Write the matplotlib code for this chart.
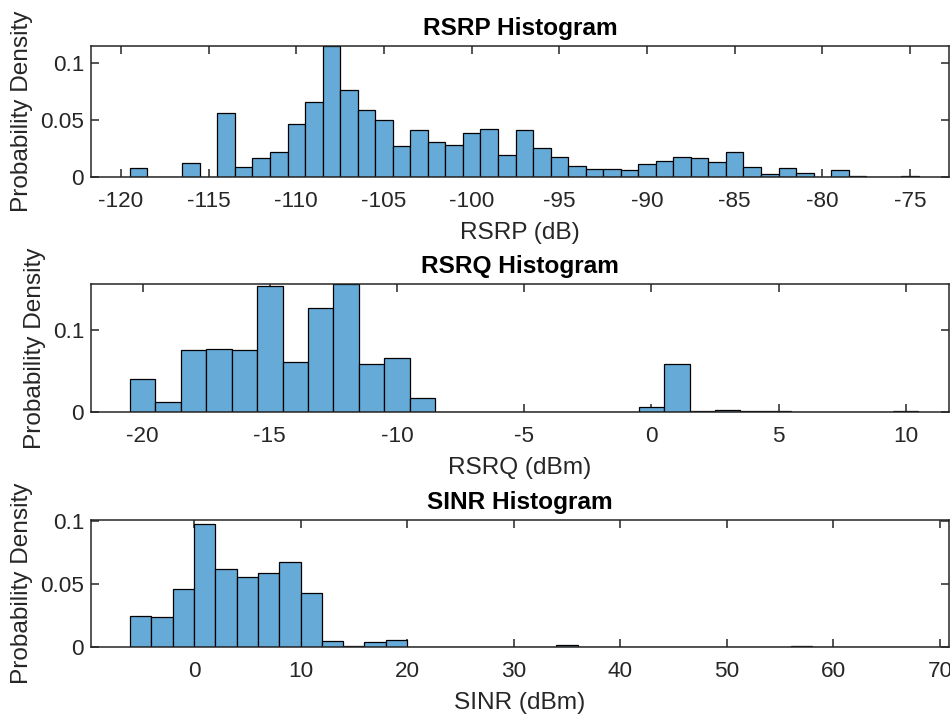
import numpy as np
import matplotlib
matplotlib.use("Agg")
import matplotlib.pyplot as plt

plt.rcParams['font.family'] = ['Liberation Sans', 'DejaVu Sans']

# ---------------- data ----------------
rsrp_first_edge = -119.5
rsrp_bin_width = 1.0
rsrp_density = [0.0079, 0.0, 0.0, 0.0124, 0.0, 0.0559, 0.0088, 0.0165, 0.0218, 0.0462,
                0.0653, 0.1147, 0.0765, 0.0585, 0.0503, 0.0274, 0.0415, 0.0303, 0.0279, 0.0388,
                0.0424, 0.0191, 0.0409, 0.0250, 0.0179, 0.0094, 0.0068, 0.0068, 0.0062, 0.0115,
                0.0141, 0.0171, 0.0165, 0.0132, 0.0218, 0.0088, 0.0026, 0.0079, 0.0038, 0.0003,
                0.0059, 0.0012, 0.0, 0.0003, 0.0012]

rsrq_first_edge = -20.5
rsrq_bin_width = 1.0
rsrq_density = [0.0400, 0.0122, 0.0751, 0.0771, 0.0759, 0.1539, 0.0612, 0.1265, 0.1563, 0.0588,
                0.0665, 0.0167, 0.0, 0.0, 0.0, 0.0, 0.0, 0.0, 0.0, 0.0,
                0.0065, 0.0588, 0.0016, 0.0029, 0.0008, 0.0012, 0.0, 0.0, 0.0, 0.0004,
                0.0016]

sinr_first_edge = -6.0
sinr_bin_width = 2.0
sinr_density = [0.0245, 0.0237, 0.0463, 0.0979, 0.0620, 0.0556, 0.0590, 0.0676, 0.0426, 0.0051,
                0.0011, 0.0037, 0.0056, 0.0003, 0.0, 0.0, 0.0, 0.0003, 0.0003, 0.0,
                0.0019, 0.0, 0.0, 0.0, 0.0, 0.0, 0.0, 0.0, 0.0, 0.0,
                0.0, 0.0005, 0.0, 0.0003, 0.0, 0.0003, 0.0003]

rsrp_ticks = [-120, -115, -110, -105, -100, -95, -90, -85, -80, -75]
rsrq_ticks = [-20, -15, -10, -5, 0, 5, 10]
sinr_ticks = [0, 10, 20, 30, 40, 50, 60, 70]

titles = ['RSRP Histogram', 'RSRQ Histogram', 'SINR Histogram']
xlabels = ['RSRP (dB)', 'RSRQ (dBm)', 'SINR (dBm)']
ylabel = 'Probability Density'

# ---------------- style ----------------
W, H = 950, 715
fig = plt.figure(figsize=(W / 100, H / 100), dpi=100)
face = (0.4 + 0.6 * 0.0, 0.4 + 0.6 * 0.447, 0.4 + 0.6 * 0.741)
axcol = '#262626'

def px_axes(left, right, top, bottom):
    return fig.add_axes([left / W, 1 - bottom / H, (right - left) / W, (bottom - top) / H])

specs = [
    dict(box=(91, 949, 46, 177), first=rsrp_first_edge, w=rsrp_bin_width, d=rsrp_density,
         xlim=(-121.71, -72.78), ylim=(0, 0.1147), yt=[0, 0.05, 0.1], ytl=['0', '0.05', '0.1'],
         xt=rsrp_ticks),
    dict(box=(91, 949, 284, 412), first=rsrq_first_edge, w=rsrq_bin_width, d=rsrq_density,
         xlim=(-22.03, 11.70), ylim=(0, 0.1563), yt=[0, 0.1], ytl=['0', '0.1'],
         xt=rsrq_ticks),
    dict(box=(91, 949, 520, 647), first=sinr_first_edge, w=sinr_bin_width, d=sinr_density,
         xlim=(-9.66, 70.84), ylim=(0, 0.101), yt=[0, 0.05, 0.1], ytl=['0', '0.05', '0.1'],
         xt=sinr_ticks),
]

for i, s in enumerate(specs):
    ax = px_axes(*s['box'])
    d = np.asarray(s['d'])
    lefts = s['first'] + s['w'] * np.arange(len(d))
    ax.bar(lefts, d, width=s['w'], align='edge', color=face, edgecolor='black',
           linewidth=0.9, zorder=2)
    ax.set_xlim(*s['xlim'])
    ax.set_ylim(*s['ylim'])
    ax.set_xticks(s['xt'])
    ax.set_xticklabels([str(t) for t in s['xt']])
    ax.set_yticks(s['yt'])
    ax.set_yticklabels(s['ytl'])
    ax.tick_params(direction='in', length=6, width=1.1, colors=axcol, labelsize=16.2,
                   top=True, right=True)
    ax.tick_params(axis='x', pad=10)
    ax.tick_params(axis='y', pad=5)
    for sp in ax.spines.values():
        sp.set_color(axcol)
        sp.set_linewidth(1.1)
        sp.set_zorder(3)
    ax.set_title(titles[i], fontsize=17.6, fontweight='bold', pad=8, color='black')
    ax.set_xlabel(xlabels[i], fontsize=17.6, color=axcol, labelpad=7)
    ax.set_ylabel(ylabel, fontsize=17.6, color=axcol, labelpad=5)

fig.savefig('out.png', dpi=100)
